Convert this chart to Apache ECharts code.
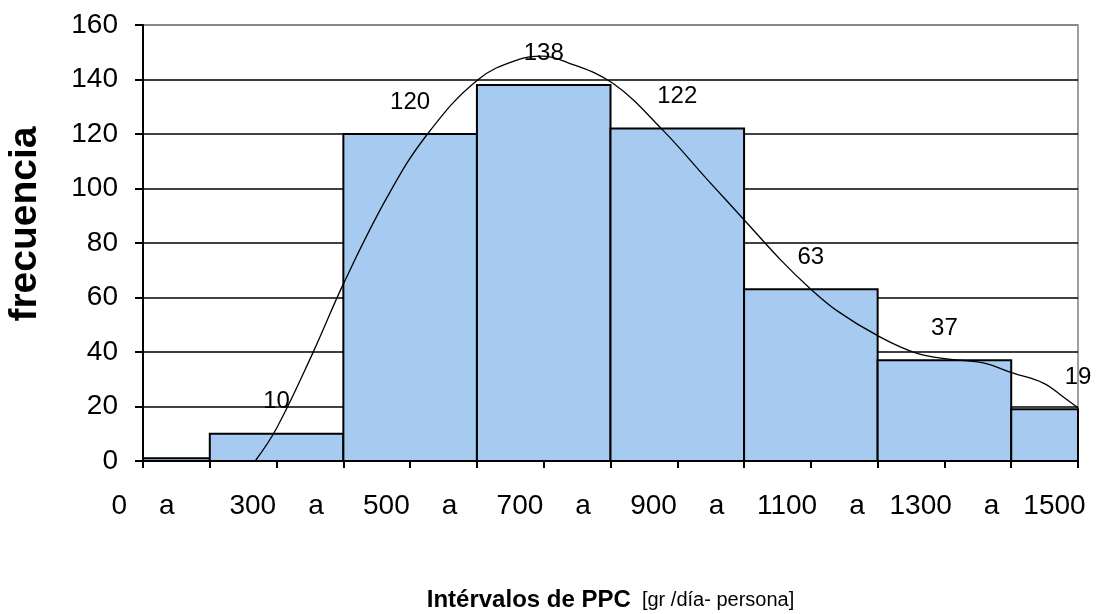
<!DOCTYPE html>
<html>
<head>
<meta charset="utf-8">
<script src="https://cdn.jsdelivr.net/npm/echarts@6/dist/echarts.min.js"></script>
<style>
  html, body { margin: 0; padding: 0; background: #fff; }
  #chart { width: 1105px; height: 614px; }
</style>
</head>
<body>
<div id="chart"></div>
<script>
// Class labels (category axis) and frequencies per class
const categories = ['0 a', '300 a', '500 a', '700 a', '900 a', '1100 a', '1300 a', '1500'];
const frequencies = [1, 10, 120, 138, 122, 63, 37, 19];

// Y axis ticks
const yMin = 0, yMax = 160, yStep = 20;

// Fitted curve (x in class-position units, y in frequency)
const curveX = [0.84, 1.00, 1.27, 1.51, 1.83, 2.13, 2.51, 2.82, 2.99, 3.17, 3.52, 3.89, 4.23, 4.51, 4.77, 4.99, 5.20, 5.50, 5.79, 6.05, 6.29, 6.51, 6.74, 6.89, 7.00];
const curveY = [0, 12, 39.5, 66, 97, 120, 140, 147.5, 148.6, 146.4, 138.5, 121.5, 103, 88, 74, 63.5, 55, 46, 39.6, 37.3, 36, 32.3, 28.6, 23.5, 19.5];

const FONT = 'Liberation Sans, Arial, sans-serif';
const chart = echarts.init(document.getElementById('chart'), null, { renderer: 'canvas' });

const barData = frequencies.map((v, i) => [i, v]);
const curveData = curveX.map((x, i) => [x, curveY[i]]);

const splitColors = [];
for (let v = yMin; v <= yMax; v += yStep) splitColors.push(v === yMax ? '#808080' : '#000000');

function renderBar(params, api) {
  const idx = api.value(0);
  const val = api.value(1);
  const pTop = api.coord([idx - 0.5, val]);
  const pBot = api.coord([idx + 0.5, 0]);
  const cs = params.coordSys;
  const rect = echarts.graphic.clipRectByRect(
    { x: pTop[0], y: pTop[1], width: pBot[0] - pTop[0], height: pBot[1] - pTop[1] },
    { x: cs.x, y: cs.y, width: cs.width, height: cs.height }
  );
  const children = [];
  if (rect) {
    children.push({
      type: 'rect',
      shape: rect,
      style: { fill: '#A6CAF0', stroke: '#000', lineWidth: 2 }
    });
  }
  if (params.dataIndex > 0) {
    const c = api.coord([idx, val]);
    children.push({
      type: 'text',
      x: c[0], y: c[1] - 20,
      style: { text: String(val), align: 'center', verticalAlign: 'bottom', fontSize: 24, fontFamily: FONT, fill: '#000' }
    });
  }
  return { type: 'group', children: children };
}

chart.setOption({
  animation: false,
  backgroundColor: '#ffffff',
  grid: {
    left: 143, right: 27, top: 25, bottom: 153,
    outerBoundsMode: 'none',
    containLabel: false,
    show: true, borderColor: '#808080', borderWidth: 1.5, backgroundColor: 'transparent'
  },
  xAxis: [
    {
      type: 'category',
      data: categories,
      boundaryGap: false,
      position: 'bottom',
      offset: 0,
      axisLine: { show: true, lineStyle: { color: '#000', width: 2 } },
      axisTick: { show: false },
      splitLine: { show: false },
      axisLabel: {
        interval: 0,
        margin: 31,
        color: '#000',
        fontFamily: FONT,
        fontSize: 28,
        formatter: function (v) {
          const parts = v.split(' ');
          return parts.length > 1 ? '{n|' + parts[0] + '}{a|' + parts[1] + '}' : '{n|' + parts[0] + '}{e|}';
        },
        rich: {
          n: { fontSize: 28, fontFamily: FONT, color: '#000' },
          a: { fontSize: 28, fontFamily: FONT, color: '#000', padding: [0, 0, 0, 32] },
          e: { width: 47 }
        }
      },
      name: '{b|Intérvalos de PPC}{n|  [gr /día- persona]}',
      nameLocation: 'middle',
      nameGap: 127,
      nameTextStyle: {
        rich: {
          b: { fontSize: 24, fontWeight: 'bold', fontFamily: FONT, color: '#000' },
          n: { fontSize: 20, fontFamily: FONT, color: '#000' }
        }
      }
    },
    {
      type: 'value',
      min: 0, max: 7, interval: 0.5,
      position: 'bottom',
      offset: 0,
      axisLine: { show: false },
      axisTick: { show: true, length: 7, lineStyle: { color: '#000', width: 2 } },
      axisLabel: { show: false },
      splitLine: { show: false }
    }
  ],
  yAxis: {
    type: 'value',
    min: yMin, max: yMax, interval: yStep,
    axisLine: { show: true, lineStyle: { color: '#000', width: 2 } },
    axisTick: { show: true, length: 8, lineStyle: { color: '#000', width: 2 } },
    axisLabel: { color: '#000', fontFamily: FONT, fontSize: 28, margin: 25 },
    splitLine: { show: true, lineStyle: { color: splitColors, width: 1.5 } },
    name: 'frecuencia',
    nameLocation: 'middle',
    nameGap: 98,
    nameTextStyle: { fontSize: 39, fontWeight: 'bold', fontFamily: FONT, color: '#000', padding: [0, 0, 0, 38] }
  },
  series: [
    {
      type: 'custom',
      coordinateSystem: 'cartesian2d',
      xAxisIndex: 1,
      yAxisIndex: 0,
      data: barData,
      encode: { x: 0, y: 1 },
      renderItem: renderBar,
      z: 2
    },
    {
      type: 'line',
      xAxisIndex: 1,
      data: curveData,
      smooth: 0.4,
      symbol: 'none',
      clip: true,
      lineStyle: { color: '#000', width: 1.3 },
      z: 3
    }
  ]
});
</script>
</body>
</html>
